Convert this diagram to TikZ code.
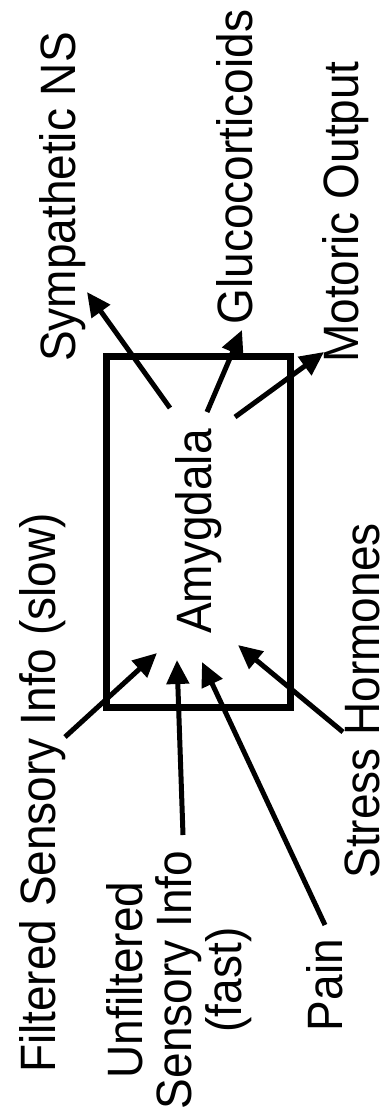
\documentclass[tikz,border=0pt]{standalone}
\usepackage{fontspec}
\setmainfont{Liberation Sans}
\usetikzlibrary{arrows.meta}
\begin{document}
\begin{tikzpicture}[x=1pt,y=1pt,
  lbl/.style={rotate=90,yscale=1.08,anchor=base,inner sep=0pt,font=\fontsize{46}{46}\selectfont},
  arr/.style={line width=5pt,-{Triangle[length=24pt,width=22pt]}},
  box/.style={draw,line width=7pt,rotate=90,minimum width=351pt,minimum height=184pt,inner sep=0pt,font=\fontsize{46}{47}\selectfont}]
\useasboundingbox (0,0) rectangle (388,-1120);
\node[box] (amy) at (198.5,-531.5) {\scalebox{1}[1.08]{Amygdala}};
% labels
\node[lbl] (sym) at (75,-197) {Sympathetic NS};
\node[lbl] (glu) at (252,-167) {Glucocorticoids};
\node[lbl] (mot) at (358,-212) {Motoric Output};
\node[lbl] (fil) at (55,-793) {Filtered Sensory Info (slow)};
\node[lbl,anchor=north,align=center] (unf) at (106,-980) {Unfiltered\\Sensory Info\\(fast)};
\node[lbl] (pain) at (342,-985) {Pain};
\node[lbl] (str) at (379,-701) {Stress Hormones};
% arrow end points
\coordinate (symA) at (170,-408); \coordinate (symB) at (87,-292);
\coordinate (gluA) at (207,-412); \coordinate (gluB) at (242,-330);
\coordinate (motA) at (235,-417); \coordinate (motB) at (324,-352);
\coordinate (filA) at (65,-737);  \coordinate (filB) at (157,-653);
\coordinate (unfA) at (183,-835); \coordinate (unfB) at (177,-660);
\coordinate (painA) at (325,-925); \coordinate (painB) at (202,-662);
\coordinate (strA) at (343,-732); \coordinate (strB) at (238,-645);
\draw[arr] (symA) -- (symB);
\draw[arr] (gluA) -- (gluB);
\draw[arr] (motA) -- (motB);
\draw[arr] (filA) -- (filB);
\draw[arr] (unfA) -- (unfB);
\draw[arr] (painA) -- (painB);
\draw[arr] (strA) -- (strB);
\end{tikzpicture}
\end{document}
